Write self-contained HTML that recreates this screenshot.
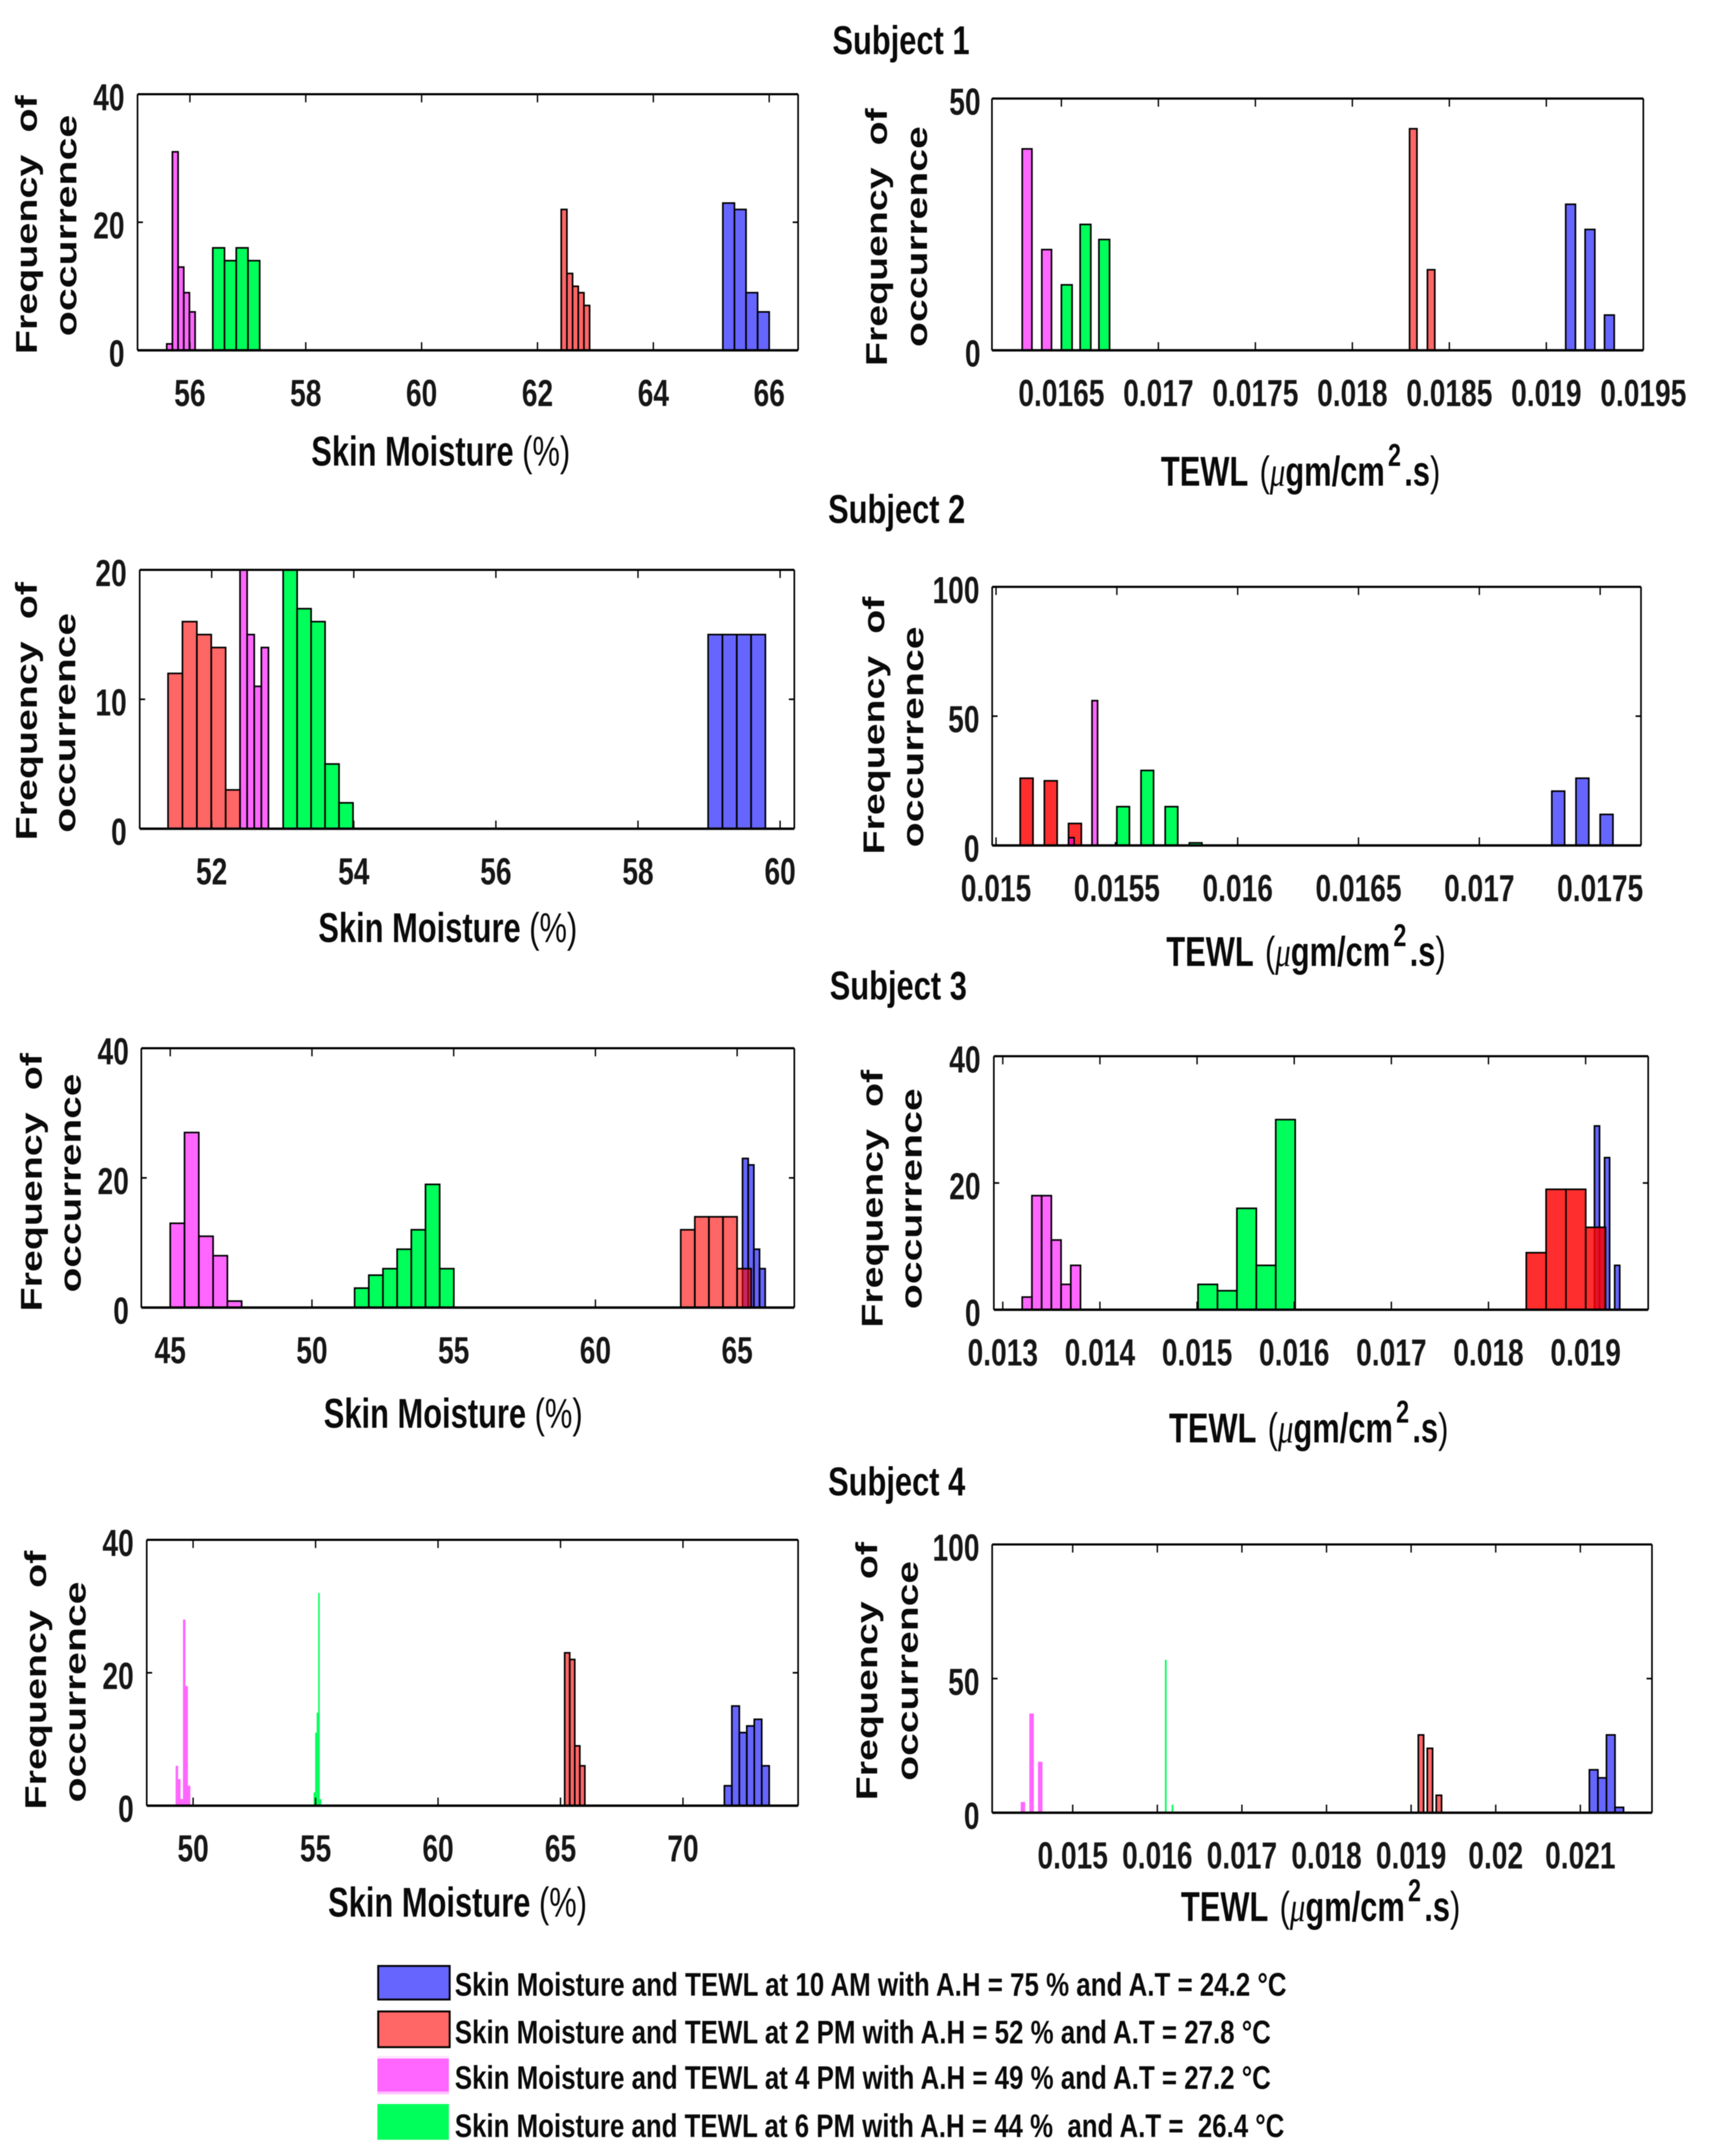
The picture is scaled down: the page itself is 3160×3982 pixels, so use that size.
<!DOCTYPE html>
<html lang="en">
<head>
<meta charset="utf-8">
<title>Skin Moisture and TEWL histograms</title>
<style>
html,body{margin:0;padding:0;background:#fff;}
#figure{display:block;width:3160px;height:3982px;background:#fff;filter:blur(0.9px);}
text{font-family:"Liberation Sans",sans-serif;font-weight:bold;fill:#0a0a0a;}
.ylab{font-size:56px;word-spacing:16px;}
.xlab{font-size:57px;}
.title{font-size:57px;}
.leg{font-size:60px;}
.tick{font-size:70px;fill:#161616;}
.mu{font-family:"Liberation Serif",serif;font-style:italic;font-weight:normal;}
.thin{font-weight:normal;}
</style>
</head>
<body>
<svg id="figure" xmlns="http://www.w3.org/2000/svg" width="3160" height="3982" viewBox="0 0 3160 3982">
  <rect x="0" y="0" width="3160" height="3982" fill="#ffffff"/>

  <text class="title" text-anchor="middle" transform="translate(1664,100) scale(1,1.3)">Subject 1</text>
  <text class="title" text-anchor="middle" transform="translate(1656,966) scale(1,1.3)">Subject 2</text>
  <text class="title" text-anchor="middle" transform="translate(1659,1846) scale(1,1.3)">Subject 3</text>
  <text class="title" text-anchor="middle" transform="translate(1656,2762) scale(1,1.3)">Subject 4</text>

  <text class="ylab" transform="translate(68,654) rotate(-90)" textLength="478" lengthAdjust="spacingAndGlyphs">Frequency of</text>
  <text class="ylab" transform="translate(141,621) rotate(-90)" textLength="409" lengthAdjust="spacingAndGlyphs">occurrence</text>
  <text class="ylab" transform="translate(1638,676) rotate(-90)" textLength="476" lengthAdjust="spacingAndGlyphs">Frequency of</text>
  <text class="ylab" transform="translate(1712,641) rotate(-90)" textLength="408" lengthAdjust="spacingAndGlyphs">occurrence</text>
  <text class="ylab" transform="translate(68,1552) rotate(-90)" textLength="477" lengthAdjust="spacingAndGlyphs">Frequency of</text>
  <text class="ylab" transform="translate(139,1538) rotate(-90)" textLength="406" lengthAdjust="spacingAndGlyphs">occurrence</text>
  <text class="ylab" transform="translate(1633,1578) rotate(-90)" textLength="476" lengthAdjust="spacingAndGlyphs">Frequency of</text>
  <text class="ylab" transform="translate(1705,1565) rotate(-90)" textLength="408" lengthAdjust="spacingAndGlyphs">occurrence</text>
  <text class="ylab" transform="translate(77,2422) rotate(-90)" textLength="477" lengthAdjust="spacingAndGlyphs">Frequency of</text>
  <text class="ylab" transform="translate(149,2387) rotate(-90)" textLength="404" lengthAdjust="spacingAndGlyphs">occurrence</text>
  <text class="ylab" transform="translate(1630,2452) rotate(-90)" textLength="476" lengthAdjust="spacingAndGlyphs">Frequency of</text>
  <text class="ylab" transform="translate(1702,2418) rotate(-90)" textLength="408" lengthAdjust="spacingAndGlyphs">occurrence</text>
  <text class="ylab" transform="translate(85,3342) rotate(-90)" textLength="478" lengthAdjust="spacingAndGlyphs">Frequency of</text>
  <text class="ylab" transform="translate(158,3329) rotate(-90)" textLength="408" lengthAdjust="spacingAndGlyphs">occurrence</text>
  <text class="ylab" transform="translate(1620,3325) rotate(-90)" textLength="477" lengthAdjust="spacingAndGlyphs">Frequency of</text>
  <text class="ylab" transform="translate(1695,3289) rotate(-90)" textLength="406" lengthAdjust="spacingAndGlyphs">occurrence</text>

  <text class="xlab" text-anchor="middle" transform="translate(814,860) scale(1,1.35)">Skin Moisture <tspan class="thin">(%)</tspan></text>
  <text class="xlab" text-anchor="middle" transform="translate(827,1740) scale(1,1.35)">Skin Moisture <tspan class="thin">(%)</tspan></text>
  <text class="xlab" text-anchor="middle" transform="translate(837,2637) scale(1,1.35)">Skin Moisture <tspan class="thin">(%)</tspan></text>
  <text class="xlab" text-anchor="middle" transform="translate(845,3540) scale(1,1.35)">Skin Moisture <tspan class="thin">(%)</tspan></text>

  <text class="xlab" text-anchor="middle" transform="translate(2402,897) scale(1,1.35)">TEWL <tspan class="thin" dx="6">(</tspan><tspan class="mu">μ</tspan>gm/cm<tspan dx="6" dy="-27" font-size="43">2</tspan><tspan dx="6" dy="27">.s</tspan><tspan class="thin">)</tspan></text>
  <text class="xlab" text-anchor="middle" transform="translate(2412,1784) scale(1,1.35)">TEWL <tspan class="thin" dx="6">(</tspan><tspan class="mu">μ</tspan>gm/cm<tspan dx="6" dy="-27" font-size="43">2</tspan><tspan dx="6" dy="27">.s</tspan><tspan class="thin">)</tspan></text>
  <text class="xlab" text-anchor="middle" transform="translate(2417,2664) scale(1,1.35)">TEWL <tspan class="thin" dx="6">(</tspan><tspan class="mu">μ</tspan>gm/cm<tspan dx="6" dy="-27" font-size="43">2</tspan><tspan dx="6" dy="27">.s</tspan><tspan class="thin">)</tspan></text>
  <text class="xlab" text-anchor="middle" transform="translate(2439,3548) scale(1,1.35)">TEWL <tspan class="thin" dx="6">(</tspan><tspan class="mu">μ</tspan>gm/cm<tspan dx="6" dy="-27" font-size="43">2</tspan><tspan dx="6" dy="27">.s</tspan><tspan class="thin">)</tspan></text>

  <g>
    <rect x="698.5" y="3631" width="132" height="62" fill="#6666ff" stroke="#000" stroke-width="3.5"/>
    <text class="leg" x="840" y="3686" textLength="1536" lengthAdjust="spacingAndGlyphs">Skin Moisture and TEWL at 10 AM with A.H = 75 % and A.T = 24.2 °C</text>
    <rect x="698.5" y="3715" width="132" height="66" fill="#ff6666" stroke="#000" stroke-width="3.5"/>
    <text class="leg" x="840" y="3774" textLength="1507" lengthAdjust="spacingAndGlyphs">Skin Moisture and TEWL at 2 PM with A.H = 52 % and A.T = 27.8 °C</text>
    <rect x="697" y="3797" width="132" height="5" fill="#ffe6ff"/>
    <rect x="697" y="3802" width="132" height="61" fill="#ff66ff"/>
    <rect x="697" y="3863" width="132" height="5" fill="#ffc0ff"/>
    <text class="leg" x="840" y="3858" textLength="1507" lengthAdjust="spacingAndGlyphs">Skin Moisture and TEWL at 4 PM with A.H = 49 % and A.T = 27.2 °C</text>
    <rect x="697" y="3886" width="132" height="66" fill="#00ff5a"/>
    <text class="leg" x="840" y="3947" textLength="1532" lengthAdjust="spacingAndGlyphs" xml:space="preserve">Skin Moisture and TEWL at 6 PM with A.H = 44 %  and A.T =  26.4 °C</text>
  </g>
</svg>

<script>
// Bin definitions are [first bin start, bin step, bar width] in data units.
// Panel 1: Subject 1 skin moisture
const p1XTicks = ["56","58","60","62","64","66"];
const p1YTicks = ["0","20","40"];
const p1BlueBins = [65.2,0.2,0.2];
const p1BlueCounts = [23,22,9,6];
const p1RedBins = [62.41,0.098,0.098];
const p1RedCounts = [22,12,10,9,7];
const p1MagentaBins = [55.6,0.098,0.098];
const p1MagentaCounts = [1,31,13,9,6];
const p1GreenBins = [56.395,0.2025,0.2025];
const p1GreenCounts = [16,14,16,14];

// Panel 2: Subject 1 TEWL
const p2XTicks = ["0.0165","0.017","0.0175","0.018","0.0185","0.019","0.0195"];
const p2YTicks = ["0","50"];
const p2BlueBins = [0.0191,0.0001,0.00005];
const p2BlueCounts = [29,24,7];
const p2RedBins = [0.018295,0.000092,0.000038];
const p2RedCounts = [44,16];
const p2MagentaBins = [0.016298,0.000101,0.00005];
const p2MagentaCounts = [40,20];
const p2GreenBins = [0.0165,0.0000967,0.000055];
const p2GreenCounts = [13,25,22];

// Panel 3: Subject 2 skin moisture
const p3XTicks = ["52","54","56","58","60"];
const p3YTicks = ["0","10","20"];
const p3BlueBins = [58.987,0.2015,0.2015];
const p3BlueCounts = [15,15,15,15];
const p3RedBins = [51.386,0.2027,0.2027];
const p3RedCounts = [12,16,15,14,3];
const p3MagentaBins = [52.399,0.1,0.1];
const p3MagentaCounts = [20,15,11,14];
const p3GreenBins = [53.006,0.1966,0.1966];
const p3GreenCounts = [20,17,16,5,2];

// Panel 4: Subject 2 TEWL
const p4XTicks = ["0.015","0.0155","0.016","0.0165","0.017","0.0175"];
const p4YTicks = ["0","50","100"];
const p4BlueBins = [0.0173,0.0001,0.000053];
const p4BlueCounts = [21,26,12];
const p4RedBins = [0.0151,0.0001,0.000053];
const p4RedCounts = [26,25,8.5];
const p4MagentaBins = [0.0153,0.0000972,0.000023];
const p4MagentaCounts = [3,56,1];
const p4GreenBins = [0.0155,0.0001,0.000052];
const p4GreenCounts = [15,29,15,1];

// Panel 5: Subject 3 skin moisture
const p5XTicks = ["45","50","55","60","65"];
const p5YTicks = ["0","20","40"];
const p5BlueBins = [65.19,0.2,0.2];
const p5BlueCounts = [23,22,9,6];
const p5RedBins = [63.01,0.497,0.497];
const p5RedCounts = [12,14,14,14,6];
const p5MagentaBins = [45,0.504,0.504];
const p5MagentaCounts = [13,27,11,8,1];
const p5GreenBins = [51.505,0.5,0.5];
const p5GreenCounts = [3,5,6,9,12,19,6];

// Panel 6: Subject 3 TEWL
const p6XTicks = ["0.013","0.014","0.015","0.016","0.017","0.018","0.019"];
const p6YTicks = ["0","20","40"];
const p6BlueBins = [0.019091,0.000052,0.000052];
const p6BlueCounts = [29,13,24,0,7];
const p6RedBins = [0.018389,0.000204,0.000204];
const p6RedCounts = [9,19,19,13];
const p6MagentaBins = [0.0132,0.0001,0.0001];
const p6MagentaCounts = [2,18,18,11,4,7];
const p6GreenBins = [0.01501,0.0002,0.0002];
const p6GreenCounts = [4,3,16,7,30];

// Panel 7: Subject 4 skin moisture
const p7XTicks = ["50","55","60","65","70"];
const p7YTicks = ["0","20","40"];
const p7BlueBins = [71.69,0.305,0.305];
const p7BlueCounts = [3,15,11,12,13,6];
const p7RedBins = [65.17,0.206,0.206];
const p7RedCounts = [23,22,9,6];
const p7MagentaBins = [49.287,0.1,0.1];
const p7MagentaCounts = [6,4,1,28,18,3];
const p7GreenBins = [54.92,0.0624,0.0624];
const p7GreenCounts = [2,11,14,32,1];

// Panel 8: Subject 4 TEWL
const p8XTicks = ["0.015","0.016","0.017","0.018","0.019","0.02","0.021"];
const p8YTicks = ["0","50","100"];
const p8BlueBins = [0.021107,0.000101,0.000101];
const p8BlueCounts = [16,13,29,2];
const p8RedBins = [0.019085,0.000106,0.000063];
const p8RedCounts = [29,24,6.5];
const p8MagentaBins = [0.014385,0.0001024,0.000053];
const p8MagentaCounts = [4,37,19];
const p8GreenBins = [0.01609,0.0000793,0.00002];
const p8GreenCounts = [57,3];

const SVG_NS = "http://www.w3.org/2000/svg";
const figure = document.getElementById("figure");

function make(tag, attrs, parent) {
  const el = document.createElementNS(SVG_NS, tag);
  for (const k in attrs) el.setAttribute(k, attrs[k]);
  parent.appendChild(el);
  return el;
}

function labelLength(label) {
  let em = 0;
  for (const c of label) em += (c === ".") ? 0.278 : 0.556;
  return em * 52;
}

function drawSeries(group, panelId, seriesName, bins, counts, xs, ys, baseY, style) {
  counts.forEach(function (count, i) {
    if (count <= 0) return;
    const left = xs(bins[0] + i * bins[1]);
    const right = xs(bins[0] + i * bins[1] + bins[2]);
    const top = Math.max(ys(count), ys.top);
    const bar = make("rect", {
      x: left, y: top, width: right - left, height: baseY - top,
      fill: style.fill, "fill-opacity": style.alpha,
      stroke: style.edge ? "#000" : "none", "stroke-width": 3
    }, group);
    
    
  });
}

function drawPanel(cfg) {
  const box = cfg.box;
  const left = box[0], top = box[1], right = box[2], bottom = box[3];
  const g = make("g", {}, figure);
  
  

  const xs = function (v) {
    return left + (v - cfg.xDomain[0]) / (cfg.xDomain[1] - cfg.xDomain[0]) * (right - left);
  };
  const yMax = Number(cfg.yTicks[cfg.yTicks.length - 1]);
  const ys = function (v) {
    return bottom - v / yMax * (bottom - top);
  };
  ys.top = top;

  cfg.series.forEach(function (s) {
    drawSeries(g, cfg.id, s.name, s.bins, s.counts, xs, ys, bottom, s);
  });

  cfg.xTicks.forEach(function (label) {
    const x = xs(Number(label));
    const t1 = make("line", {x1: x, x2: x, y1: bottom, y2: bottom - 15, stroke: "#000", "stroke-width": 2.5}, g);
    
    
    const t2 = make("line", {x1: x, x2: x, y1: top, y2: top + 15, stroke: "#000", "stroke-width": 2.5}, g);
    
    
    const txt = make("text", {
      class: "tick", x: x, y: bottom + 103, "text-anchor": "middle",
      textLength: labelLength(label), lengthAdjust: "spacingAndGlyphs"
    }, g);
    txt.textContent = label;
    
    
  });

  cfg.yTicks.forEach(function (label) {
    const y = ys(Number(label));
    const t1 = make("line", {x1: left, x2: left + 10, y1: y, y2: y, stroke: "#000", "stroke-width": 3}, g);
    
    
    const t2 = make("line", {x1: right, x2: right - 10, y1: y, y2: y, stroke: "#000", "stroke-width": 3}, g);
    
    
    const txt = make("text", {
      class: "tick", x: cfg.yLabelRight, y: y + 30, "text-anchor": "end",
      textLength: labelLength(label), lengthAdjust: "spacingAndGlyphs"
    }, g);
    txt.textContent = label;
    
    
  });

  const sides = [
    [left, top, right, top, 4], [left, bottom, right, bottom, 4.5],
    [left, top, left, bottom, 3], [right, top, right, bottom, 3]
  ];
  sides.forEach(function (s) {
    const axisLine = make("line", {x1: s[0], y1: s[1], x2: s[2], y2: s[3], stroke: "#000", "stroke-width": s[4]}, g);
    
    
  });
}

function seriesSet(blueBins, blueCounts, redBins, redCounts, magBins, magCounts, greenBins, greenCounts, opts) {
  return [
    {name: "10am", bins: blueBins, counts: blueCounts, fill: "#0000ff", alpha: 0.6, edge: true},
    {name: "2pm", bins: redBins, counts: redCounts, fill: "#ff0000", alpha: opts.redAlpha, edge: true},
    {name: "4pm", bins: magBins, counts: magCounts, fill: "#ff00ff", alpha: 0.6, edge: opts.edges},
    {name: "6pm", bins: greenBins, counts: greenCounts, fill: "#00ff5a", alpha: 1, edge: opts.edges}
  ];
}

drawPanel({id: "s1-moisture", box: [254,174,1474,647], xDomain: [55.096,66.499], xTicks: p1XTicks, yTicks: p1YTicks, yLabelRight: 230,
  series: seriesSet(p1BlueBins,p1BlueCounts,p1RedBins,p1RedCounts,p1MagentaBins,p1MagentaCounts,p1GreenBins,p1GreenCounts,{redAlpha:0.6,edges:true})});
drawPanel({id: "s1-tewl", box: [1832,182,3035,647], xDomain: [0.016142,0.0195], xTicks: p2XTicks, yTicks: p2YTicks, yLabelRight: 1811,
  series: seriesSet(p2BlueBins,p2BlueCounts,p2RedBins,p2RedCounts,p2MagentaBins,p2MagentaCounts,p2GreenBins,p2GreenCounts,{redAlpha:0.6,edges:true})});
drawPanel({id: "s2-moisture", box: [258,1052.5,1467,1530.6], xDomain: [50.987,60.2], xTicks: p3XTicks, yTicks: p3YTicks, yLabelRight: 234,
  series: seriesSet(p3BlueBins,p3BlueCounts,p3RedBins,p3RedCounts,p3MagentaBins,p3MagentaCounts,p3GreenBins,p3GreenCounts,{redAlpha:0.6,edges:true})});
drawPanel({id: "s2-tewl", box: [1832.4,1083.9,3030.7,1561.5], xDomain: [0.014984,0.017669], xTicks: p4XTicks, yTicks: p4YTicks, yLabelRight: 1809,
  series: seriesSet(p4BlueBins,p4BlueCounts,p4RedBins,p4RedCounts,p4MagentaBins,p4MagentaCounts,p4GreenBins,p4GreenCounts,{redAlpha:0.82,edges:true})});
drawPanel({id: "s3-moisture", box: [261,1936,1467,2415], xDomain: [43.98,67.017], xTicks: p5XTicks, yTicks: p5YTicks, yLabelRight: 238,
  series: seriesSet(p5BlueBins,p5BlueCounts,p5RedBins,p5RedCounts,p5MagentaBins,p5MagentaCounts,p5GreenBins,p5GreenCounts,{redAlpha:0.6,edges:true})});
drawPanel({id: "s3-tewl", box: [1835.5,1950.8,3044,2419], xDomain: [0.012908,0.019644], xTicks: p6XTicks, yTicks: p6YTicks, yLabelRight: 1811,
  series: seriesSet(p6BlueBins,p6BlueCounts,p6RedBins,p6RedCounts,p6MagentaBins,p6MagentaCounts,p6GreenBins,p6GreenCounts,{redAlpha:0.82,edges:true})});
drawPanel({id: "s4-moisture", box: [271,2844,1474,3335], xDomain: [48.107,74.7], xTicks: p7XTicks, yTicks: p7YTicks, yLabelRight: 247,
  series: seriesSet(p7BlueBins,p7BlueCounts,p7RedBins,p7RedCounts,p7MagentaBins,p7MagentaCounts,p7GreenBins,p7GreenCounts,{redAlpha:0.6,edges:false})});
drawPanel({id: "s4-tewl", box: [1832.4,2852.5,3051,3348], xDomain: [0.014048,0.021847], xTicks: p8XTicks, yTicks: p8YTicks, yLabelRight: 1809,
  series: seriesSet(p8BlueBins,p8BlueCounts,p8RedBins,p8RedCounts,p8MagentaBins,p8MagentaCounts,p8GreenBins,p8GreenCounts,{redAlpha:0.6,edges:false})});
</script>
</body>
</html>
